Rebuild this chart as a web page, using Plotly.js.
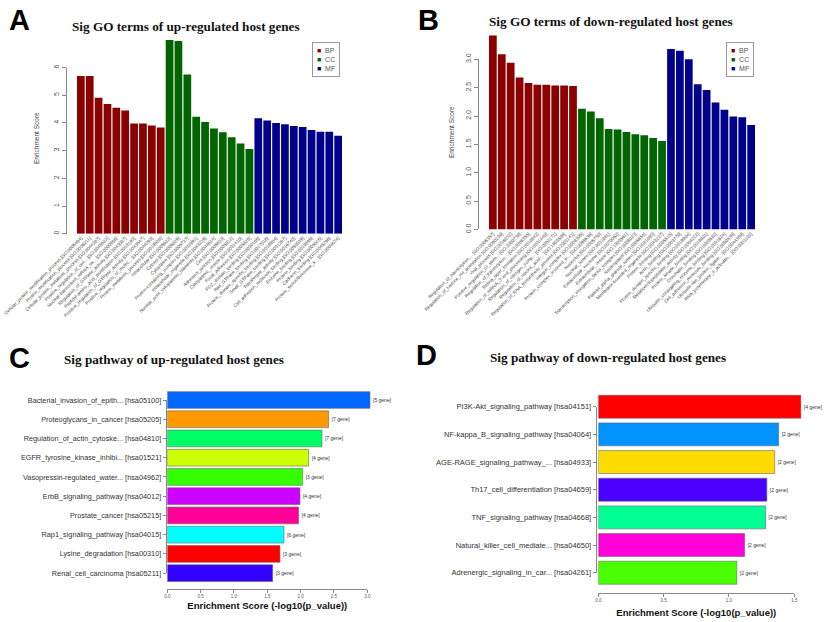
<!DOCTYPE html>
<html>
<head>
<meta charset="utf-8">
<script src="https://cdn.plot.ly/plotly-3.0.1.min.js"></script>
<style>
	html, body { margin: 0; padding: 0; background: #fff; }
	#fig { width: 825px; height: 622px; }
</style>
</head>
<body>
<div id="fig"></div>
<script>
	'use strict';

	// ---- data ----
	const goGroups = ['BP', 'CC', 'MF'];
	const goColors = ['#8B0000', '#006400', '#00008B'];

	// A - up-regulated GO terms
	const upBPTerms = [
		'Cellular_protein_modification_process [GO:0006464]',
		'Protein_modification_process [GO:0036211]',
		'Cellular_protein_metabolic_process [GO:0044267]',
		'Positive_regulation_of_cell... [GO:0048522]',
		'Nuclear-transcribed_mRNA_ca... [GO:0000956]',
		'Regulation_of_GTPase_activity [GO:0043087]',
		'Peptidyl-amino_acid_modification [GO:0018193]',
		'Positive_regulation_of_GTPase_activity [GO:0043547]',
		'Positive_regulation_of_molec... [GO:0044093]',
		'Protein_metabolic_process [GO:0019538]'
	];
	const upBPScores = [5.69, 5.69, 4.91, 4.68, 4.55, 4.45, 3.98, 3.98, 3.91, 3.83];

	const upCCTerms = [
		'Intracellular [GO:0005622]',
		'Cytosol [GO:0005829]',
		'Cytoplasm [GO:0005737]',
		'Protein-containing_complex [GO:0032991]',
		'Intracellular_organelle [GO:0043229]',
		'Nuclear_pore_cytoplasmic_filaments [GO:0044614]',
		'Cell [GO:0005623]',
		'Adherens_junction [GO:0005912]',
		'Cytoplasmic_vesicle [GO:0031410]',
		'Focal_adhesion [GO:0005925]'
	];
	const upCCScores = [6.99, 6.96, 5.75, 4.22, 4.03, 3.80, 3.66, 3.48, 3.26, 3.06];

	const upMFTerms = [
		'PDZ_domain_binding [GO:0030165]',
		'Ras_GTPase_binding [GO:0017016]',
		'Protein_domain_specific_binding [GO:0019904]',
		'Small_GTPase_binding [GO:0031267]',
		'Transferase_activity [GO:0016740]',
		'Cell_adhesion_molecule_binding [GO:0050839]',
		'Enzyme_binding [GO:0019899]',
		'Protein_binding [GO:0005515]',
		'Cadherin_binding [GO:0045296]',
		'Protein_serine/threonine_k... [GO:0004674]'
	];
	const upMFScores = [4.17, 4.09, 4.00, 3.95, 3.89, 3.85, 3.74, 3.68, 3.68, 3.54];

	// B - down-regulated GO terms
	const downBPTerms = [
		'Regulation_of_transcription,... [GO:0006357]',
		'Regulation_of_histone_H4_acetylation [GO:0090239]',
		'Viral_process [GO:0016032]',
		'Positive_regulation_of_stem... [GO:2000738]',
		'Regulation_of_transcription... [GO:0006355]',
		'Retina_layer_formation [GO:0010842]',
		"Regulation_of_mRNA_3'-end_processing [GO:0031440]",
		'Regulation_of_nitrogen_comp... [GO:0051171]',
		'Regulation_of_nucleic_acid-... [GO:1903506]',
		'Regulation_of_RNA_biosynthetic_process [GO:2001141]'
	];
	const downBPScores = [3.42, 3.09, 2.94, 2.68, 2.58, 2.55, 2.55, 2.54, 2.54, 2.53];

	const downCCTerms = [
		'Integrin_complex [GO:0008305]',
		'Protein_complex_involved_in... [GO:0098636]',
		'Nucleolus [GO:0005730]',
		'Nuclear_lumen [GO:0031981]',
		'Extracellular_exosome [GO:0070062]',
		'Extracellular_vesicle [GO:1903561]',
		'Transcription_elongation_factor_complex [GO:0008023]',
		'Nucleoplasm [GO:0005654]',
		'Platelet_alpha_granule_lumen [GO:0031093]',
		'Membrane-bounded_organelle [GO:0043227]'
	];
	const downCCScores = [2.13, 2.08, 1.96, 1.77, 1.76, 1.72, 1.68, 1.66, 1.61, 1.56];

	const downMFTerms = [
		'Protein_binding [GO:0005515]',
		'Actin_binding [GO:0003779]',
		'Protein_domain_specific_binding [GO:0019904]',
		'Metalloendopeptidase_activity [GO:0004222]',
		'Protein_kinase_binding [GO:0019901]',
		'Chromatin_binding [GO:0003682]',
		'Ubiquitin_conjugating_enzyme_binding [GO:0031624]',
		'Cell_adhesion_molecule_binding [GO:0050839]',
		'Ubiquitin-like_protein_ligase... [GO:0044389]',
		'RNA_polymerase_II_activatin... [GO:0001102]'
	];
	const downMFScores = [3.18, 3.15, 3.00, 2.56, 2.46, 2.24, 2.11, 1.99, 1.98, 1.84];

	// C - pathways of up-regulated genes
	const upPathways = [
		'Bacterial_invasion_of_epith... [hsa05100]',
		'Proteoglycans_in_cancer [hsa05205]',
		'Regulation_of_actin_cytoske... [hsa04810]',
		'EGFR_tyrosine_kinase_inhibi... [hsa01521]',
		'Vasopressin-regulated_water... [hsa04962]',
		'ErbB_signaling_pathway [hsa04012]',
		'Prostate_cancer [hsa05215]',
		'Rap1_signaling_pathway [hsa04015]',
		'Lysine_degradation [hsa00310]',
		'Renal_cell_carcinoma [hsa05211]'
	];
	const upPathScores = [3.04, 2.42, 2.32, 2.12, 2.03, 1.99, 1.97, 1.75, 1.69, 1.58];
	const upPathGenes = [5, 7, 7, 4, 3, 4, 4, 6, 3, 3];
	const upPathColors = ['#0066FF', '#FF9900', '#00FF66', '#CCFF00', '#33FF00',
		'#CC00FF', '#FF0099', '#00FFFF', '#FF0000', '#3300FF'];

	// D - pathways of down-regulated genes
	const downPathways = [
		'PI3K-Akt_signaling_pathway [hsa04151]',
		'NF-kappa_B_signaling_pathway [hsa04064]',
		'AGE-RAGE_signaling_pathway_... [hsa04933]',
		'Th17_cell_differentiation [hsa04659]',
		'TNF_signaling_pathway [hsa04668]',
		'Natural_killer_cell_mediate... [hsa04650]',
		'Adrenergic_signaling_in_car... [hsa04261]'
	];
	const downPathScores = [1.55, 1.38, 1.35, 1.29, 1.28, 1.12, 1.06];
	const downPathGenes = [4, 2, 2, 2, 2, 2, 2];
	const downPathColors = ['#FF0000', '#0092FF', '#FFDB00', '#4900FF', '#00FF92', '#FF00DB', '#49FF00'];

	// ---- layout helpers (pixel -> paper) ----
	const W = 825, H = 622;
	const px = v => v / W;
	const py = v => 1 - v / H;

	const sans = 'Liberation Sans, Arial, sans-serif';
	const serif = 'Liberation Serif, Times New Roman, serif';
	const axisGrey = '#888';

	const data = [];

	// GO bar panels: one trace per ontology group
	const addGoTraces = ( termsArr, scoresArr, xa, ya ) => {
		goGroups.forEach(( g, i ) => {
			data.push({
				type: 'bar',
				name: g,
				x: termsArr[i],
				y: scoresArr[i],
				xaxis: xa,
				yaxis: ya,
				width: 0.87,
				marker: { color: goColors[i] },
				showlegend: false,
				hoverinfo: 'skip'
			});
		});
	};

	addGoTraces([upBPTerms, upCCTerms, upMFTerms], [upBPScores, upCCScores, upMFScores], 'x', 'y');
	addGoTraces([downBPTerms, downCCTerms, downMFTerms], [downBPScores, downCCScores, downMFScores], 'x2', 'y2');

	const pathTrace = ( names, scores, genes, colors, xa, ya, w ) => ({
		type: 'bar',
		orientation: 'h',
		x: scores,
		y: names,
		xaxis: xa,
		yaxis: ya,
		width: w,
		text: genes.map(n => '[' + n + ' gene]'),
		textposition: 'outside',
		textfont: { family: sans, size: 5, color: '#333' },
		constraintext: 'none',
		marker: { color: colors, line: { color: '#666', width: 0.6 } },
		cliponaxis: false,
		showlegend: false,
		hoverinfo: 'skip'
	});

	data.push(pathTrace(upPathways, upPathScores, upPathGenes, upPathColors, 'x3', 'y3', 0.87));
	data.push(pathTrace(downPathways, downPathScores, downPathGenes, downPathColors, 'x4', 'y4', 0.83));

	/*
	R style axes: the drawn axis line only spans first..last tick,
	while bars may run past it. So the visible axes sit on their own
	(empty) subplots next to the hidden axes that carry the bars.
	*/
	[['x', 'y5'], ['x2', 'y6'], ['x5', 'y3'], ['x3', 'y7'], ['x6', 'y4'], ['x4', 'y8']].forEach(( p ) => {
		data.push({ type: 'scatter', x: [], y: [], xaxis: p[0], yaxis: p[1], showlegend: false, hoverinfo: 'skip' });
	});

	// ---- axes ----
	const goX = ( cats, d0, d1, anchor ) => ({
		type: 'category',
		categoryorder: 'array',
		categoryarray: cats,
		range: [-0.5, cats.length - 0.5],
		domain: [px(d0), px(d1)],
		anchor: anchor,
		tickmode: 'linear', tick0: 0, dtick: 1,
		tickangle: -45,
		tickfont: { family: sans, size: 4.6, color: '#444' },
		ticks: '', showline: false, showgrid: false, zeroline: false,
		automargin: false
	});

	// hidden value axis carrying the bars (same scale as the visible one)
	const hiddenY = ( zeroPx, pxPerUnit, max ) => ({
		domain: [py(zeroPx), py(zeroPx - pxPerUnit * max)],
		range: [0, max],
		visible: false
	});
	const hiddenX = ( zeroPx, pxPerUnit, max ) => ({
		domain: [px(zeroPx), px(zeroPx + pxPerUnit * max)],
		range: [0, max],
		visible: false
	});

	const numY = ( top, bottom, range, dtick, fmt, pos ) => ({
		domain: [py(bottom), py(top)],
		range: range,
		anchor: 'free',
		position: px(pos),
		dtick: dtick,
		tickformat: fmt,
		tickangle: -90,
		tickfont: { family: sans, size: 7, color: '#555' },
		ticks: 'outside', ticklen: 4, tickcolor: axisGrey, tickwidth: 1,
		showline: true, linecolor: axisGrey, linewidth: 1,
		showgrid: false, zeroline: false, automargin: false
	});

	const pathX = ( d0, d1, range, pos, standoff ) => ({
		domain: [px(d0), px(d1)],
		range: range,
		anchor: 'free',
		position: py(pos),
		dtick: 0.5,
		tickformat: '.1f',
		tickfont: { family: sans, size: 4.5, color: '#555' },
		ticks: 'outside', ticklen: 3, tickcolor: axisGrey,
		showline: true, linecolor: axisGrey, linewidth: 1,
		showgrid: false, zeroline: false, automargin: false,
		title: {
			text: 'Enrichment Score (-log10(p_value))',
			font: { family: sans, size: 9.5, color: '#111', weight: 'bold' },
			standoff: standoff
		}
	});

	// category axis with the labels (no line); spacing = px between bar centres
	const pathY = ( cats, firstPx, spacing, pos, fontSize ) => ({
		type: 'category',
		categoryorder: 'array',
		categoryarray: cats,
		range: [cats.length - 0.5, -0.5],
		domain: [py(firstPx + spacing * (cats.length - 0.5)), py(firstPx - spacing / 2)],
		anchor: 'free',
		position: px(pos),
		tickfont: { family: sans, size: fontSize, color: '#333' },
		ticks: 'outside', ticklen: 3, tickcolor: axisGrey,
		showline: false, showgrid: false, zeroline: false, automargin: false
	});

	// bare line between the first and last bar centre
	const lineY = ( top, bottom, pos ) => ({
		domain: [py(bottom), py(top)],
		anchor: 'free',
		position: px(pos),
		showline: true, linecolor: axisGrey, linewidth: 1,
		showticklabels: false, ticks: '',
		showgrid: false, zeroline: false, automargin: false
	});

	const upCats = upBPTerms.concat(upCCTerms, upMFTerms);
	const downCats = downBPTerms.concat(downCCTerms, downMFTerms);

	// ---- annotations: panel letters, titles, legends ----
	const letter = ( t, x, y ) => ({
		text: t, xref: 'paper', yref: 'paper', x: px(x), y: py(y),
		xanchor: 'left', yanchor: 'middle', showarrow: false,
		font: { family: sans, size: 29, color: '#000', weight: 'bold' }
	});
	const title = ( t, x, y ) => ({
		text: t, xref: 'paper', yref: 'paper', x: px(x), y: py(y),
		xanchor: 'center', yanchor: 'middle', showarrow: false,
		font: { family: serif, size: 13.2, color: '#111', weight: 'bold' }
	});
	const yTitle = ( x, y ) => ({
		text: 'Enrichment Score', xref: 'paper', yref: 'paper', x: px(x), y: py(y),
		xanchor: 'center', yanchor: 'middle', textangle: -90, showarrow: false,
		font: { family: sans, size: 6.5, color: '#444' }
	});
	const legendText = goGroups.map(( g, i ) =>
		'<span style="color:' + goColors[i] + '">■</span>  ' + g).join('<br>');
	const legendBox = ( x, y ) => ({
		text: legendText, xref: 'paper', yref: 'paper', x: px(x), y: py(y),
		xanchor: 'left', yanchor: 'top', align: 'left', showarrow: false,
		font: { family: sans, size: 7, color: '#555' },
		bordercolor: '#999', borderwidth: 1, borderpad: 4, bgcolor: '#fff'
	});

	const layout = {
		width: W, height: H,
		margin: { l: 0, r: 0, t: 0, b: 0 },
		paper_bgcolor: '#fff', plot_bgcolor: 'rgba(0,0,0,0)',
		barmode: 'overlay',
		showlegend: false,
		font: { family: sans },

		// A
		xaxis: goX(upCats, 76.4, 342.6, 'y'),
		yaxis: hiddenY(233.7, 27.7, 7.2),
		yaxis5: numY(67.5, 233.7, [0, 6], 1, '', 66),

		// B
		xaxis2: goX(downCats, 488.4, 755.6, 'y2'),
		yaxis2: hiddenY(229.4, 56.7, 3.6),
		yaxis6: numY(59.3, 229.4, [0, 3], 0.5, '.1f', 478),

		// C
		xaxis3: hiddenX(167.3, 66.67, 3.3),
		yaxis3: pathY(upPathways, 400, 19.24, 165.7, 7.3),
		xaxis5: pathX(167.3, 367.3, [0, 3], 589, 3),
		yaxis7: lineY(400, 573.2, 165.7),

		// D
		xaxis4: hiddenX(598.3, 130.67, 1.65),
		yaxis4: pathY(downPathways, 406.7, 27.67, 595.7, 7.5),
		xaxis6: pathX(598.3, 794.3, [0, 1.5], 592.7, 7),
		yaxis8: lineY(406.7, 572.7, 595.7),

		annotations: [
			letter('A', 7, 20), letter('B', 416, 20), letter('C', 7, 358), letter('D', 414, 355),
			title('Sig GO terms of up-regulated host genes', 186, 26),
			title('Sig GO terms of down-regulated host genes', 611, 22),
			title('Sig pathway of up-regulated host genes', 174, 359),
			title('Sig pathway of down-regulated host genes', 608, 357),
			yTitle(36, 138), yTitle(451, 132),
			legendBox(312, 42), legendBox(726, 42)
		]
	};

	Plotly.newPlot('fig', data, layout, { displayModeBar: false, staticPlot: true });
</script>
</body>
</html>
